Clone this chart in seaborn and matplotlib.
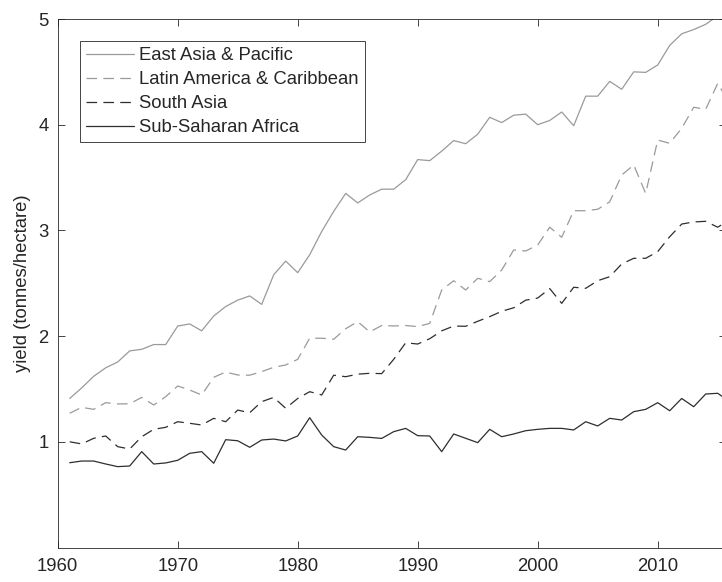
import matplotlib
matplotlib.use("Agg")
import matplotlib.pyplot as plt
import numpy as np
import pandas as pd
import seaborn as sns

# Cereal yield by region, tonnes per hectare
years = list(range(1961, 2017))

east_asia_pacific = [
    1.41, 1.51, 1.62, 1.70, 1.755, 1.86, 1.875, 1.92, 1.92, 2.095,
    2.115, 2.05, 2.19, 2.28, 2.34, 2.38, 2.30, 2.58, 2.71, 2.60,
    2.77, 2.99, 3.18, 3.35, 3.26, 3.335, 3.39, 3.39, 3.48, 3.67,
    3.66, 3.75, 3.85, 3.82, 3.91, 4.07, 4.02, 4.09, 4.10, 4.00,
    4.04, 4.12, 3.99, 4.27, 4.27, 4.41, 4.335, 4.50, 4.495, 4.565,
    4.75, 4.86, 4.90, 4.95, 5.03, 5.10,
]
latin_america_caribbean = [
    1.27, 1.326, 1.307, 1.37, 1.358, 1.36, 1.42, 1.348, 1.427, 1.528,
    1.49, 1.443, 1.61, 1.66, 1.632, 1.63, 1.664, 1.705, 1.727, 1.78,
    1.98, 1.98, 1.97, 2.07, 2.137, 2.04, 2.10, 2.096, 2.10, 2.09,
    2.12, 2.436, 2.524, 2.436, 2.547, 2.515, 2.625, 2.815, 2.805, 2.862,
    3.03, 2.935, 3.186, 3.186, 3.20, 3.27, 3.524, 3.619, 3.35, 3.855,
    3.824, 3.966, 4.165, 4.146, 4.39, 4.20,
]
south_asia = [
    1.00, 0.98, 1.033, 1.055, 0.954, 0.932, 1.048, 1.118, 1.137, 1.19,
    1.175, 1.159, 1.222, 1.19, 1.30, 1.275, 1.38, 1.42, 1.317, 1.41,
    1.474, 1.443, 1.63, 1.616, 1.64, 1.648, 1.645, 1.78, 1.937, 1.925,
    1.975, 2.05, 2.095, 2.093, 2.14, 2.184, 2.235, 2.268, 2.34, 2.36,
    2.45, 2.31, 2.462, 2.452, 2.524, 2.562, 2.682, 2.736, 2.736, 2.799,
    2.94, 3.06, 3.08, 3.086, 3.03, 3.10,
]
sub_saharan_africa = [
    0.802, 0.818, 0.818, 0.79, 0.765, 0.771, 0.907, 0.79, 0.80, 0.825,
    0.891, 0.907, 0.797, 1.02, 1.01, 0.948, 1.017, 1.026, 1.008, 1.055,
    1.228, 1.064, 0.954, 0.922, 1.048, 1.042, 1.032, 1.096, 1.127, 1.058,
    1.055, 0.907, 1.074, 1.033, 0.992, 1.118, 1.048, 1.074, 1.105, 1.118,
    1.127, 1.127, 1.112, 1.19, 1.15, 1.222, 1.206, 1.285, 1.307, 1.37,
    1.294, 1.41, 1.332, 1.452, 1.459, 1.38,
]

regions = [
    "East Asia & Pacific",
    "Latin America & Caribbean",
    "South Asia",
    "Sub-Saharan Africa",
]
series = [east_asia_pacific, latin_america_caribbean, south_asia, sub_saharan_africa]

df = pd.DataFrame({
    "year": years * len(regions),
    "yield": np.concatenate(series),
    "region": np.repeat(regions, len(years)),
})

sns.set_style("ticks")
plt.rcParams["font.family"] = ["Liberation Sans", "DejaVu Sans"]

ink = "#262626"
light = "#9a9a9a"
dark = "#2e2e2e"
fs = 13.3

fig = plt.figure(figsize=(7.22, 5.82), dpi=100)
W, H = 722, 582
left_px, right_px, top_px, bottom_px = 57.7, 726.0, 19.0, 547.5
ax = fig.add_axes([left_px / W, (H - bottom_px) / H,
                   (right_px - left_px) / W, (bottom_px - top_px) / H])

palette = {regions[0]: light, regions[1]: light, regions[2]: dark, regions[3]: dark}
dashes = {regions[0]: "", regions[1]: (8.5, 5), regions[2]: (8.5, 5), regions[3]: ""}

sns.lineplot(data=df, x="year", y="yield", hue="region", style="region",
             palette=palette, dashes=dashes, linewidth=0.9, ax=ax)

ax.set_xlim(1960, 1960 + (right_px - left_px) / 12.0)
ax.set_ylim(0, 5)
ax.set_xticks(range(1960, 2011, 10))
ax.set_yticks([1, 2, 3, 4, 5])

ax.tick_params(direction="in", top=True, right=True, length=5, width=0.6,
               color=ink, labelcolor=ink, labelsize=fs)
ax.tick_params(axis="x", pad=7.5)
ax.tick_params(axis="y", pad=6.5)
for sp in ax.spines.values():
    sp.set_color(ink)
    sp.set_linewidth(0.6)

ax.set_xlabel("")
ax.set_ylabel("yield (tonnes/hectare)", fontsize=fs, color=ink, labelpad=5)

sns.move_legend(ax, "upper left",
                bbox_to_anchor=(80 / W, 1 - 41 / H),
                bbox_transform=fig.transFigure,
                title=None, frameon=True, fancybox=False,
                edgecolor=ink, framealpha=1, borderaxespad=0,
                handlelength=2.55, handletextpad=0.3,
                labelspacing=0.37, borderpad=0.35, fontsize=fs)
leg = ax.get_legend()
leg.get_frame().set_linewidth(0.6)
for line in leg.get_lines():
    line.set_linewidth(0.9)
for t in leg.get_texts():
    t.set_color(ink)

fig.savefig("out.png", dpi=100)
